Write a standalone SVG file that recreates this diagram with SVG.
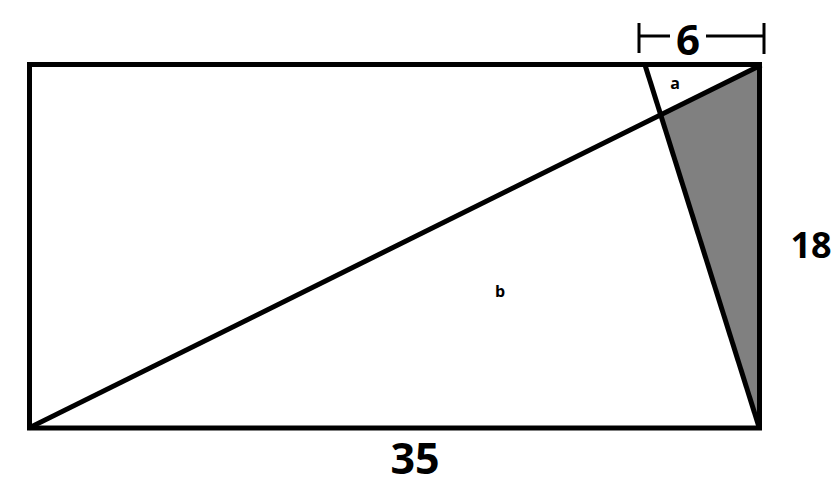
<svg xmlns="http://www.w3.org/2000/svg" width="840" height="499" viewBox="0 0 840 499">
<style>
.ln{stroke:#000;stroke-width:5;fill:none;stroke-linecap:square}
.tk{stroke:#000;stroke-width:3;fill:none}
.t{font-family:"Open Sans","Liberation Sans",sans-serif;font-weight:bold;fill:#000;text-anchor:middle}
</style>
<rect width="840" height="499" fill="#fff"/>
<g id="shade"><polygon points="661,116 760,66 759,428" fill="#808080"/></g>
<g id="connectors">
<rect class="ln" x="29.5" y="64.5" width="730" height="363.5"/>
<line class="ln" x1="31" y1="427" x2="759" y2="66"/>
<line class="ln" x1="645" y1="65" x2="759" y2="427" style="stroke-linecap:butt"/>
</g>
<g id="dim6">
<line class="tk" x1="639" y1="23" x2="639" y2="53"/>
<line class="tk" x1="764" y1="23" x2="764" y2="54"/>
<line class="tk" x1="639" y1="36" x2="670" y2="36"/>
<line class="tk" x1="706" y1="36" x2="764" y2="36"/>
<text class="t" x="688" y="55" font-size="42">6</text>
</g>
<g id="label18"><text class="t" x="811" y="258" font-size="36">18</text></g>
<g id="label35"><text class="t" x="415" y="474" font-size="43">35</text></g>
<g id="labela"><text class="t" x="675" y="89" font-size="16">a</text></g>
<g id="labelb"><text class="t" x="500" y="297" font-size="16">b</text></g>
</svg>
